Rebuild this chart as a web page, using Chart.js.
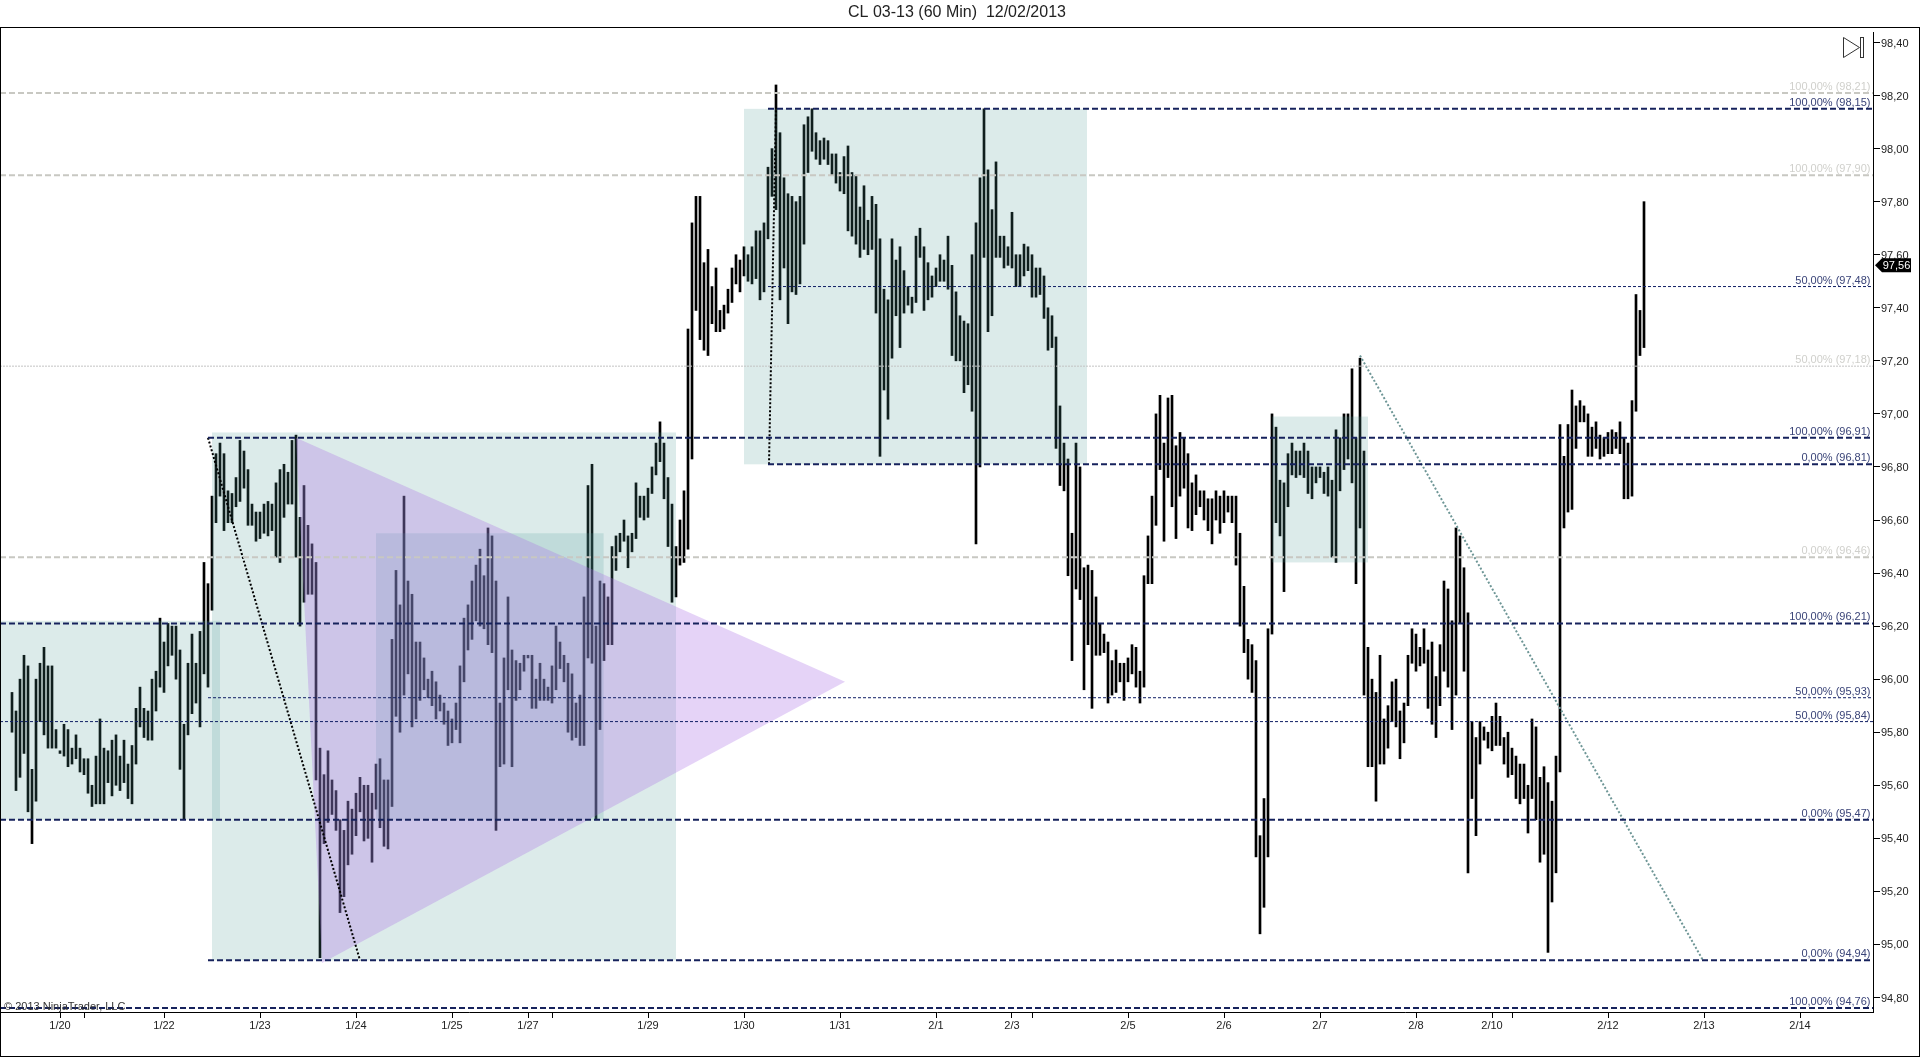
<!DOCTYPE html>
<html lang="en">

<head>
  <meta charset="UTF-8" />
  <title>CL 03-13 (60 Min)</title>
  <style>
    body { margin: 0; background: #fff; }
    canvas { display: block; }
  </style>
</head>

<body>
  <canvas id="priceChart" width="1920" height="1058"></canvas>
  <script src="https://cdn.jsdelivr.net/npm/chart.js"></script>
  <script>
    // high / low of every 60 min bar, left to right
    const barHighs = [
      95.95,95.88,96.00,96.09,96.05,95.66,96.00,96.06,96.12,96.05,
      96.05,95.81,95.73,95.83,95.81,95.74,95.79,95.74,95.70,95.70,
      95.60,95.71,95.85,95.74,95.73,95.77,95.79,95.71,95.77,95.68,
      95.75,95.89,95.97,95.89,95.88,96.00,96.03,96.23,96.14,96.21,
      96.20,96.20,96.11,95.83,96.06,96.17,96.06,96.18,96.44,96.36,
      96.69,96.85,96.89,96.85,96.71,96.70,96.76,96.90,96.86,96.79,
      96.66,96.63,96.63,96.66,96.67,96.66,96.74,96.79,96.81,96.78,
      96.90,96.92,96.61,96.73,96.58,96.51,96.44,95.74,95.64,95.73,
      95.62,95.58,95.47,95.43,95.54,95.51,95.57,95.63,95.60,95.60,
      95.57,95.68,95.70,95.62,95.62,96.15,96.41,96.28,96.69,96.37,
      96.32,96.14,96.14,96.08,96.00,96.03,95.99,95.94,95.91,95.88,
      95.85,95.91,96.05,96.23,96.28,96.37,96.43,96.49,96.39,96.57,
      96.54,96.37,95.91,96.08,96.31,96.11,96.07,96.06,96.09,96.09,
      96.09,96.00,96.06,96.00,95.97,96.05,96.20,96.14,96.09,96.06,
      96.02,95.91,95.94,96.31,96.73,96.81,96.20,96.37,96.36,96.31,
      96.50,96.54,96.55,96.60,96.54,96.55,96.74,96.69,96.69,96.72,
      96.80,96.89,96.97,96.89,96.76,96.66,96.50,96.60,96.71,97.32,
      97.72,97.82,97.82,97.57,97.62,97.48,97.55,97.39,97.41,97.47,
      97.55,97.60,97.58,97.63,97.60,97.63,97.69,97.69,97.72,97.93,
      98.00,98.24,98.06,97.89,97.83,97.82,97.80,97.82,98.09,98.12,
      98.15,98.06,98.03,98.04,98.03,97.98,97.98,97.91,97.97,98.01,
      97.91,97.90,97.78,97.86,97.73,97.82,97.79,97.66,97.47,97.43,
      97.66,97.58,97.63,97.54,97.48,97.44,97.67,97.70,97.63,97.57,
      97.52,97.55,97.60,97.58,97.67,97.56,97.46,97.37,97.35,97.34,
      97.60,97.72,97.89,98.15,97.92,97.77,97.95,97.67,97.67,97.63,
      97.76,97.60,97.60,97.64,97.63,97.60,97.55,97.55,97.52,97.40,
      97.37,97.29,97.03,96.89,96.83,96.55,96.89,96.80,96.42,96.43,
      96.41,96.31,96.21,96.17,96.14,96.07,96.11,96.06,96.06,96.08,
      96.13,96.12,96.03,96.39,96.54,96.69,97.00,97.07,96.89,97.06,
      97.07,96.88,96.93,96.91,96.85,96.74,96.77,96.71,96.71,96.68,
      96.68,96.71,96.69,96.71,96.69,96.69,96.69,96.55,96.35,96.15,
      96.13,96.07,95.41,95.55,96.19,97.00,96.95,96.75,96.74,96.85,
      96.89,96.86,96.86,96.89,96.86,96.80,96.80,96.80,96.78,96.80,
      96.75,96.94,96.91,97.00,97.00,97.17,96.91,97.21,96.86,96.12,
      96.00,95.95,96.09,95.85,95.90,95.99,96.00,95.88,95.91,96.09,
      96.19,96.17,96.12,96.19,96.11,96.14,96.01,96.13,96.37,96.34,
      96.22,96.57,96.54,96.42,96.25,95.84,95.78,95.84,95.82,95.80,
      95.86,95.91,95.86,95.78,95.80,95.74,95.71,95.68,95.68,95.60,
      95.85,95.82,95.63,95.67,95.61,95.54,95.71,96.96,96.84,96.96,
      97.09,97.03,97.05,97.03,97.00,96.95,96.97,96.92,96.91,96.93,
      96.94,96.93,96.97,96.91,96.89,97.05,97.45,97.39,97.80
    ];
    const barLows = [
      95.80,95.58,95.63,95.72,95.50,95.38,95.54,95.84,95.79,95.74,
      95.74,95.74,95.72,95.71,95.67,95.68,95.70,95.65,95.64,95.57,
      95.52,95.53,95.53,95.53,95.61,95.56,95.60,95.58,95.61,95.55,
      95.53,95.68,95.82,95.78,95.77,95.77,95.88,95.97,95.95,96.05,
      96.09,96.00,95.66,95.47,95.79,95.87,95.91,95.82,96.02,95.97,
      96.26,96.59,96.69,96.56,96.59,96.59,96.65,96.67,96.72,96.58,
      96.58,96.52,96.53,96.55,96.54,96.56,96.46,96.44,96.61,96.66,
      96.66,96.46,96.20,96.29,96.32,96.32,95.62,94.95,95.38,95.46,
      95.49,95.43,95.12,95.18,95.30,95.34,95.41,95.50,95.39,95.40,
      95.31,95.51,95.44,95.37,95.36,95.52,95.86,95.80,95.94,96.02,
      95.82,95.85,95.92,95.96,95.93,95.90,95.85,95.88,95.83,95.75,
      95.76,95.81,95.76,95.99,96.11,96.15,96.22,96.20,96.19,96.13,
      96.10,95.43,95.67,95.68,95.96,95.67,95.92,95.96,96.03,96.08,
      95.89,95.89,95.92,95.92,95.92,95.91,95.96,96.04,95.99,95.80,
      95.77,95.78,95.75,95.75,96.08,96.06,95.47,95.81,96.07,96.13,
      96.13,96.41,96.48,96.52,96.42,96.48,96.53,96.61,96.60,96.61,
      96.70,96.77,96.82,96.68,96.50,96.29,96.31,96.43,96.44,96.49,
      96.83,97.39,97.28,97.24,97.22,97.34,97.31,97.31,97.32,97.38,
      97.42,97.49,97.46,97.52,97.50,97.49,97.51,97.43,97.46,97.66,
      97.82,97.77,97.43,97.55,97.34,97.46,97.45,97.49,97.64,97.91,
      97.99,97.96,97.94,97.96,97.94,97.90,97.87,97.84,97.83,97.69,
      97.67,97.64,97.59,97.62,97.60,97.62,97.38,96.84,97.09,96.98,
      97.21,97.37,97.25,97.38,97.41,97.38,97.42,97.59,97.39,97.43,
      97.44,97.48,97.50,97.50,97.47,97.22,97.20,97.20,97.08,97.11,
      97.01,96.51,96.80,97.59,97.31,97.37,97.59,97.59,97.55,97.56,
      97.55,97.48,97.48,97.52,97.54,97.44,97.44,97.45,97.36,97.24,
      97.25,96.87,96.73,96.71,96.39,96.07,96.34,96.30,95.96,96.13,
      95.89,96.09,96.09,96.10,95.91,95.94,95.95,95.99,95.92,95.99,
      96.02,95.97,95.91,95.97,96.36,96.36,96.58,96.79,96.52,96.76,
      96.65,96.53,96.69,96.72,96.57,96.56,96.62,96.65,96.60,96.56,
      96.51,96.60,96.55,96.59,96.63,96.59,96.43,96.20,96.10,96.00,
      95.95,95.33,95.04,95.14,95.33,96.17,96.59,96.54,96.33,96.65,
      96.77,96.76,96.77,96.76,96.70,96.68,96.74,96.76,96.70,96.69,
      96.46,96.44,96.71,96.79,96.83,96.74,96.36,96.57,95.94,95.67,
      95.67,95.54,95.68,95.68,95.74,95.84,95.82,95.70,95.76,95.90,
      96.06,96.03,96.05,96.06,95.89,95.83,95.78,95.90,96.03,95.97,
      95.81,95.94,96.21,96.03,95.27,95.55,95.41,95.68,95.77,95.74,
      95.73,95.75,95.75,95.68,95.63,95.64,95.55,95.53,95.55,95.42,
      95.55,95.47,95.31,95.34,94.97,95.16,95.27,95.65,96.57,96.63,
      96.64,96.87,96.97,96.97,96.84,96.84,96.87,96.83,96.84,96.85,
      96.85,96.87,96.85,96.68,96.68,96.69,97.01,97.22,97.25
    ];

    const lastPrice = 97.56;

    // x axis, position counted in bars
    const xTickBars = [12, 18, 38, 62, 86, 110, 129, 135, 159, 183, 207, 231, 250, 255, 279, 303, 327, 351, 370, 375, 399, 423, 447];
    const xTickLabels = ['1/20', '', '1/22', '1/23', '1/24', '1/25', '1/27', '', '1/29', '1/30', '1/31', '2/1', '2/3', '', '2/5', '2/6', '2/7', '2/8', '2/10', '', '2/12', '2/13', '2/14'];

    const yTickValues = [94.8, 95, 95.2, 95.4, 95.6, 95.8, 96, 96.2, 96.4, 96.6, 96.8, 97, 97.2, 97.4, 97.6, 97.8, 98, 98.2, 98.4];
    const yTickLabels = ['94,80', '95,00', '95,20', '95,40', '95,60', '95,80', '96,00', '96,20', '96,40', '96,60', '96,80', '97,00', '97,20', '97,40', '97,60', '97,80', '98,00', '98,20', '98,40'];

    // fibonacci style levels
    const levelValues = [98.21, 98.15, 97.90, 97.48, 97.18, 96.91, 96.81, 96.46, 96.21, 95.93, 95.84, 95.47, 94.94, 94.76];
    const levelPercents = ['100,00%', '100,00%', '100,00%', '50,00%', '50,00%', '100,00%', '0,00%', '0,00%', '100,00%', '50,00%', '50,00%', '0,00%', '0,00%', '100,00%'];
    const levelStartBars = [-3, 189, -3, 189, -3, 49, 189, -3, -3, 49, -3, -3, 49, -3];
    const levelKinds = ['grey', 'navy', 'grey', 'navyThin', 'greyThin', 'navy', 'navy', 'grey', 'navy', 'navyThin', 'navyThin', 'navy', 'navy', 'navy'];

    // shaded rectangles: first bar, last bar, top price, bottom price
    const zoneStartBars = [-3, 50, 91, 183, 315];
    const zoneEndBars = [52, 166, 147.9, 268.75, 339];
    const zoneTops = [96.22, 96.93, 96.55, 98.15, 96.99];
    const zoneBottoms = [95.47, 94.94, 95.47, 96.81, 96.44];

    // purple triangle corners
    const triangleBars = [71, 77.5, 208.25];
    const trianglePrices = [96.91, 94.93, 95.99];

    // dotted trend lines: start bar, start price, end bar, end price
    const trendStartBars = [49, 189.25, 337];
    const trendStartPrices = [96.91, 96.81, 97.22];
    const trendEndBars = [87, 191, 422.75];
    const trendEndPrices = [94.94, 98.15, 94.94];

    const fontName = '"Liberation Sans", Arial, sans-serif';
    const xMin = -2.75, xMax = 465.25;
    const yMin = 94.7453, yMax = 98.4547;

    const levelStyles = {
      grey: { color: 'rgb(200,200,194)', width: 2, dash: [6, 3], text: 'rgb(208,208,204)' },
      greyThin: { color: 'rgb(195,195,195)', width: 1, dash: [2, 1], text: 'rgb(208,208,204)' },
      navy: { color: 'rgb(22,34,92)', width: 2, dash: [6, 3], text: 'rgb(58,68,120)' },
      navyThin: { color: 'rgb(15,30,100)', width: 1, dash: [3, 2], text: 'rgb(58,68,120)' }
    };
    const trendStyles = [
      { color: '#000', width: 2, dash: [2, 2] },
      { color: '#000', width: 2, dash: [2, 2] },
      { color: 'rgb(110,150,150)', width: 2, dash: [2, 2] }
    ];

    const levelDatasets = levelValues.map((value, i) => ({
      type: 'line',
      order: 1,
      data: [{ x: levelStartBars[i], y: value }, { x: xMax, y: value }],
      borderColor: levelStyles[levelKinds[i]].color,
      borderWidth: levelStyles[levelKinds[i]].width,
      borderDash: levelStyles[levelKinds[i]].dash,
      pointRadius: 0
    }));

    const trendDatasets = trendStartBars.map((bar, i) => ({
      type: 'line',
      order: 1,
      data: [{ x: bar, y: trendStartPrices[i] }, { x: trendEndBars[i], y: trendEndPrices[i] }],
      borderColor: trendStyles[i].color,
      borderWidth: trendStyles[i].width,
      borderDash: trendStyles[i].dash,
      pointRadius: 0
    }));

    // zones sit on top of the bars, the level lines on top of the zones
    const zonesPlugin = {
      id: 'zones',
      afterDatasetDraw(chart, args) {
        if (args.index !== 0) return;
        const { ctx, chartArea, scales: { x, y } } = chart;
        ctx.save();
        ctx.beginPath();
        ctx.rect(chartArea.left, chartArea.top, chartArea.width, chartArea.height);
        ctx.clip();
        ctx.fillStyle = 'rgba(80,155,150,0.2)';
        zoneStartBars.forEach((bar, i) => {
          const left = x.getPixelForValue(bar);
          const top = y.getPixelForValue(zoneTops[i]);
          ctx.fillRect(left, top, x.getPixelForValue(zoneEndBars[i]) - left, y.getPixelForValue(zoneBottoms[i]) - top);
        });
        ctx.fillStyle = 'rgba(170,110,230,0.3)';
        ctx.beginPath();
        triangleBars.forEach((bar, i) => {
          ctx.lineTo(x.getPixelForValue(bar), y.getPixelForValue(trianglePrices[i]));
        });
        ctx.closePath();
        ctx.fill();
        ctx.restore();
      }
    };

    const annotationsPlugin = {
      id: 'annotations',
      afterDraw(chart) {
        const { ctx, chartArea, scales: { y } } = chart;
        ctx.save();

        // level labels
        ctx.font = '11px ' + fontName;
        ctx.textAlign = 'right';
        ctx.textBaseline = 'alphabetic';
        levelValues.forEach((value, i) => {
          ctx.fillStyle = levelStyles[levelKinds[i]].text;
          const label = levelPercents[i] + ' (' + value.toFixed(2).replace('.', ',') + ')';
          ctx.fillText(label, chartArea.right - 2.5, y.getPixelForValue(value) - 3);
        });

        ctx.fillStyle = '#333';
        ctx.textAlign = 'left';
        ctx.fillText('\u00A9 2013 NinjaTrader, LLC', 4, 1010);

        // current price marker
        const py = y.getPixelForValue(lastPrice);
        ctx.fillStyle = '#000';
        ctx.beginPath();
        ctx.moveTo(1875, py);
        ctx.lineTo(1882, py - 7);
        ctx.lineTo(1911, py - 7);
        ctx.lineTo(1911, py + 7);
        ctx.lineTo(1882, py + 7);
        ctx.closePath();
        ctx.fill();
        ctx.fillStyle = '#fff';
        ctx.textAlign = 'center';
        ctx.textBaseline = 'middle';
        ctx.fillText(lastPrice.toFixed(2).replace('.', ','), 1896.5, py + 0.5);

        // frame, price axis line and the play icon
        ctx.strokeStyle = '#000';
        ctx.lineWidth = 1;
        ctx.strokeRect(0.5, 27.5, 1919, 1029);
        ctx.beginPath();
        ctx.moveTo(1873.5, 32);
        ctx.lineTo(1873.5, 1012);
        ctx.stroke();
        ctx.strokeStyle = '#333';
        ctx.beginPath();
        ctx.moveTo(1843.5, 37.5);
        ctx.lineTo(1843.5, 57.5);
        ctx.lineTo(1859.5, 47.5);
        ctx.closePath();
        ctx.stroke();
        ctx.strokeRect(1860.5, 37.5, 3, 20);
        ctx.restore();
      }
    };

    new Chart(document.getElementById('priceChart'), {
      type: 'bar',
      data: {
        datasets: [
          {
            order: 10,
            data: barHighs.map((high, i) => ({ x: i, y: [barLows[i], high] })),
            backgroundColor: '#000',
            barThickness: 2,
            borderWidth: 0
          },
          ...levelDatasets,
          ...trendDatasets
        ]
      },
      options: {
        responsive: false,
        animation: false,
        // right padding pulls the title centre left, the price axis width makes up for it
        layout: { padding: { left: 1, right: 7 } },
        plugins: {
          legend: { display: false },
          tooltip: { enabled: false },
          title: {
            display: true,
            text: 'CL 03-13 (60 Min)  12/02/2013',
            color: '#222',
            font: { family: fontName, size: 16, weight: 'normal', lineHeight: 1.2 },
            padding: { top: 3, bottom: 5.8 }
          }
        },
        scales: {
          x: {
            type: 'linear',
            min: xMin,
            max: xMax,
            offset: false,
            afterBuildTicks: (scale) => { scale.ticks = xTickBars.map((value) => ({ value })); },
            afterFit: (scale) => { scale.height = 46; },
            grid: { offset: false, drawOnChartArea: false, tickLength: 6, tickColor: '#000' },
            border: { color: '#000' },
            ticks: {
              autoSkip: false,
              maxRotation: 0,
              padding: 1,
              color: '#222',
              font: { family: fontName, size: 11 },
              callback: (value, index) => xTickLabels[index]
            }
          },
          y: {
            position: 'right',
            min: yMin,
            max: yMax,
            afterBuildTicks: (scale) => { scale.ticks = yTickValues.map((value) => ({ value })); },
            afterFit: (scale) => { scale.width = 40; },
            grid: { drawOnChartArea: false, tickLength: 7, tickColor: '#000' },
            border: { display: false },
            ticks: {
              autoSkip: false,
              padding: 1,
              labelOffset: 1,
              color: '#222',
              font: { family: fontName, size: 11 },
              callback: (value, index) => yTickLabels[index]
            }
          }
        }
      },
      plugins: [zonesPlugin, annotationsPlugin]
    });
  </script>
</body>

</html>
